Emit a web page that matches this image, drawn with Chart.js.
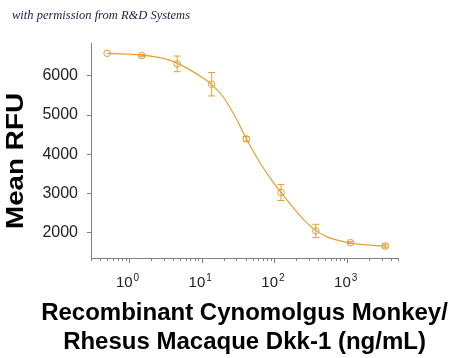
<!DOCTYPE html>
<html>
<head>
<meta charset="utf-8">
<script src="https://cdn.jsdelivr.net/npm/chart.js@4"></script>
<style>
  body { margin: 0; background: #fff; }
  #wrap { position: relative; width: 450px; height: 358px; }
  #credit {
    position: absolute; left: 12px; top: 8px;
    font: italic 12.5px "Liberation Serif", "DejaVu Serif", serif;
    color: #1c1c48;
  }
</style>
</head>
<body>
<div id="wrap">
  <canvas id="chart" width="450" height="358"></canvas>
  <div id="credit">with permission from R&amp;D Systems</div>
</div>
<script>
// measured points (ng/mL vs mean RFU)
const doses = [0.5, 1.5, 4.6, 13.7, 41, 123, 370, 1111, 3333];
const meanRfu = [6580, 6520, 6310, 5790, 4390, 3020, 2035, 1735, 1650];
const errRfu = [0, 30, 200, 300, 60, 205, 170, 25, 50];

// fitted curve
const fitX = [0.5, 1, 2, 3, 4.6, 7, 10, 13.7, 20, 30, 41, 60, 85, 123, 180, 260, 370, 550, 800, 1111, 1700, 2500, 3500];
const fitY = [6580, 6560, 6510, 6450, 6330, 6150, 5970, 5780, 5450, 4900, 4400, 3850, 3420, 3020, 2640, 2300, 2050, 1870, 1780, 1725, 1685, 1660, 1648];

const xDecades = [0, 1, 2, 3];
const yTicks = [2000, 3000, 4000, 5000, 6000];
const xTitle = ['Recombinant Cynomolgus Monkey/', 'Rhesus Macaque Dkk-1 (ng/mL)'];
const yTitle = 'Mean RFU';

const orange = '#E3A032';
const axisGray = '#808080';
const font = '"Liberation Sans", Arial, sans-serif';

// error bars, x ticks with superscript labels, axis titles
const decorations = {
  id: 'decorations',
  afterDatasetsDraw(chart) {
    const { ctx, scales: { x, y } } = chart;
    ctx.save();
    ctx.strokeStyle = orange;
    ctx.lineWidth = 1;
    doses.forEach((d, i) => {
      if (!errRfu[i]) return;
      const px = x.getPixelForValue(d);
      const top = y.getPixelForValue(meanRfu[i] + errRfu[i]);
      const bot = y.getPixelForValue(meanRfu[i] - errRfu[i]);
      ctx.beginPath();
      ctx.moveTo(px, top); ctx.lineTo(px, bot);
      ctx.moveTo(px - 3.5, top); ctx.lineTo(px + 3.5, top);
      ctx.moveTo(px - 3.5, bot); ctx.lineTo(px + 3.5, bot);
      ctx.stroke();
    });
    ctx.restore();
  },
  afterDraw(chart) {
    const { ctx, scales: { x } } = chart;
    const base = x.top;
    ctx.save();
    ctx.strokeStyle = axisGray;
    ctx.lineWidth = 1;
    // minor + major ticks
    for (let e = -1; e <= 3; e++) {
      for (let m = 1; m <= 9; m++) {
        const v = m * Math.pow(10, e);
        if (v < x.min || v > x.max) continue;
        const px = Math.round(x.getPixelForValue(v)) + 0.5;
        ctx.beginPath();
        ctx.moveTo(px, base);
        ctx.lineTo(px, base + (m === 1 ? 5 : 3));
        ctx.stroke();
      }
    }
    // 10^n labels
    ctx.fillStyle = '#222';
    ctx.textBaseline = 'alphabetic';
    xDecades.forEach(e => {
      const px = x.getPixelForValue(Math.pow(10, e));
      ctx.font = '15px ' + font;
      const w1 = ctx.measureText('10').width;
      ctx.font = '10px ' + font;
      const w2 = ctx.measureText(String(e)).width;
      const start = px - (w1 + w2) / 2 - 2;
      ctx.font = '15px ' + font;
      ctx.fillText('10', start, 287);
      ctx.font = '10px ' + font;
      ctx.fillText(String(e), start + w1 + 1, 281);
    });
    // x title
    ctx.fillStyle = '#000';
    ctx.textAlign = 'center';
    ctx.textBaseline = 'middle';
    ctx.font = 'bold 24px ' + font;
    const cx = (x.left + x.right) / 2;
    xTitle.forEach((line, i) => ctx.fillText(line, cx, 313 + i * 29));
    // y title
    ctx.translate(16, 161);
    ctx.rotate(-Math.PI / 2);
    ctx.scale(1.16, 1);
    ctx.fillText(yTitle, 0, 0);
    ctx.restore();
  }
};

new Chart(document.getElementById('chart'), {
  type: 'scatter',
  data: {
    datasets: [{
      type: 'line',
      data: fitX.map((v, i) => ({ x: v, y: fitY[i] })),
      borderColor: orange,
      borderWidth: 1.2,
      pointRadius: 0,
      cubicInterpolationMode: 'monotone',
      fill: false
    }, {
      data: doses.map((v, i) => ({ x: v, y: meanRfu[i] })),
      borderColor: orange,
      backgroundColor: 'rgba(0,0,0,0)',
      borderWidth: 1,
      pointRadius: 3.3,
      showLine: false
    }]
  },
  options: {
    responsive: false,
    animation: false,
    layout: { padding: { top: 43, right: 52, left: 0, bottom: 0 } },
    plugins: {
      legend: { display: false },
      tooltip: { enabled: false }
    },
    scales: {
      x: {
        type: 'logarithmic',
        position: 'bottom',
        min: 0.32,
        max: 5000,
        grid: { display: false },
        border: { color: axisGray, width: 1 },
        ticks: { display: false },
        afterFit(scale) { scale.height = 100; }
      },
      y: {
        min: 1343,
        max: 6844,
        grid: { drawOnChartArea: false, tickLength: 4, color: axisGray },
        border: { color: axisGray, width: 1 },
        afterBuildTicks(scale) { scale.ticks = yTicks.map(v => ({ value: v })); },
        ticks: {
          color: '#222',
          padding: 9,
          font: { family: font, size: 16 },
          callback: v => String(v)
        },
        afterFit(scale) { scale.width = 91; }
      }
    }
  },
  plugins: [decorations]
});
</script>
</body>
</html>
